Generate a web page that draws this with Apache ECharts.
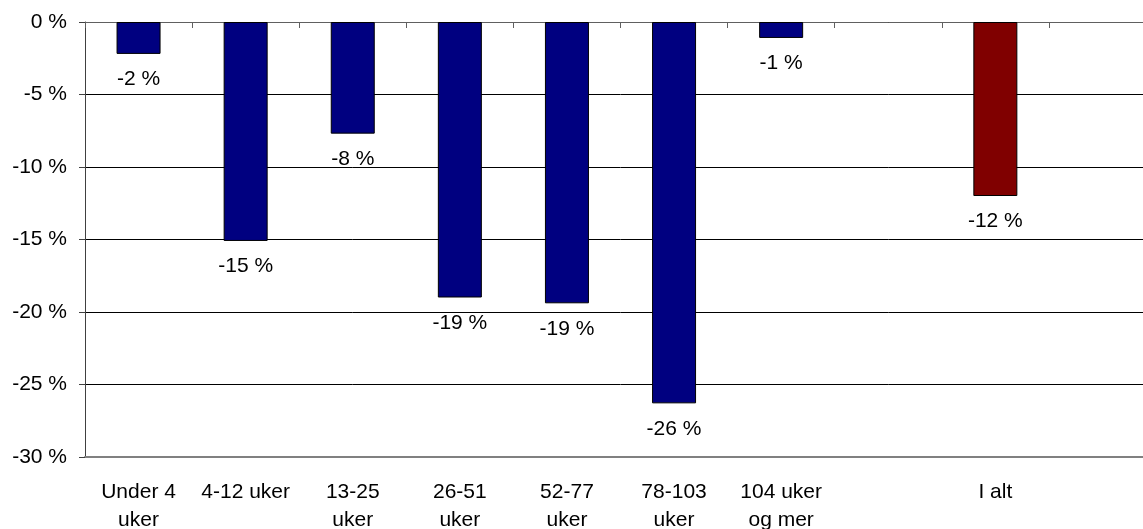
<!DOCTYPE html>
<html>
<head>
<meta charset="utf-8">
<script src="https://cdn.jsdelivr.net/npm/echarts@6/dist/echarts.min.js"></script>
<style>
html,body{margin:0;padding:0;background:#fff;overflow:hidden;width:1143px;height:529px;}
#chart{width:1156px;height:529px;}
</style>
</head>
<body>
<div id="chart"></div>
<script>
var categories = ['Under 4\nuker', '4-12 uker', '13-25\nuker', '26-51\nuker', '52-77\nuker', '78-103\nuker', '104 uker\nog mer', '', 'I alt', ''];
var values = [-2.2, -15.1, -7.7, -19.0, -19.4, -26.3, -1.1, null, -12.0, null];
var barColors = ['#000080', '#000080', '#000080', '#000080', '#000080', '#000080', '#000080', '#000080', '#800000', '#000080'];
var yTicks = [-30, -25, -20, -15, -10, -5, 0];

var FONT = 'Liberation Sans, Arial, sans-serif';
var chart = echarts.init(document.getElementById('chart'), null, {renderer: 'canvas'});

var seriesData = values.map(function (v, i) {
  return {value: v, itemStyle: {color: barColors[i]}};
});

chart.setOption({
  animation: false,
  backgroundColor: '#ffffff',
  grid: {left: 85, top: 22, bottom: 72, right: 0, containLabel: false, outerBoundsMode: 'none'},
  xAxis: [
    {
      type: 'category',
      data: categories,
      position: 'bottom',
      boundaryGap: true,
      axisLine: {onZero: false, lineStyle: {color: '#808080', width: 2}},
      axisTick: {show: false},
      axisLabel: {
        interval: 0, margin: 21, color: '#000',
        fontFamily: FONT, fontSize: 21, lineHeight: 28, align: 'center'
      },
      splitLine: {show: false}
    },
    {
      type: 'category',
      data: categories,
      position: 'top',
      boundaryGap: true,
      axisLine: {onZero: false, lineStyle: {color: '#606060', width: 1}},
      axisTick: {show: true, inside: true, length: 6, interval: 0, lineStyle: {color: '#606060', width: 1}},
      axisLabel: {show: false},
      splitLine: {show: false}
    }
  ],
  yAxis: {
    type: 'value',
    min: yTicks[0],
    max: yTicks[yTicks.length - 1],
    interval: 5,
    axisLine: {show: true, lineStyle: {color: '#404040', width: 1}},
    axisTick: {show: true, length: 6, lineStyle: {color: '#404040'}},
    axisLabel: {
      margin: 18, color: '#000', fontFamily: FONT, fontSize: 21,
      formatter: function (v) { return v + ' %'; }
    },
    splitLine: {show: true, lineStyle: {color: '#000', width: 1}}
  },
  series: [{
    type: 'bar',
    xAxisIndex: 0,
    data: seriesData,
    barWidth: 44,
    itemStyle: {borderColor: '#000', borderWidth: 1},
    label: {
      show: true,
      position: 'bottom',
      distance: 15,
      color: '#000',
      fontFamily: FONT,
      fontSize: 21,
      formatter: function (p) { return Math.round(p.value) + ' %'; }
    }
  }]
});
</script>
</body>
</html>
